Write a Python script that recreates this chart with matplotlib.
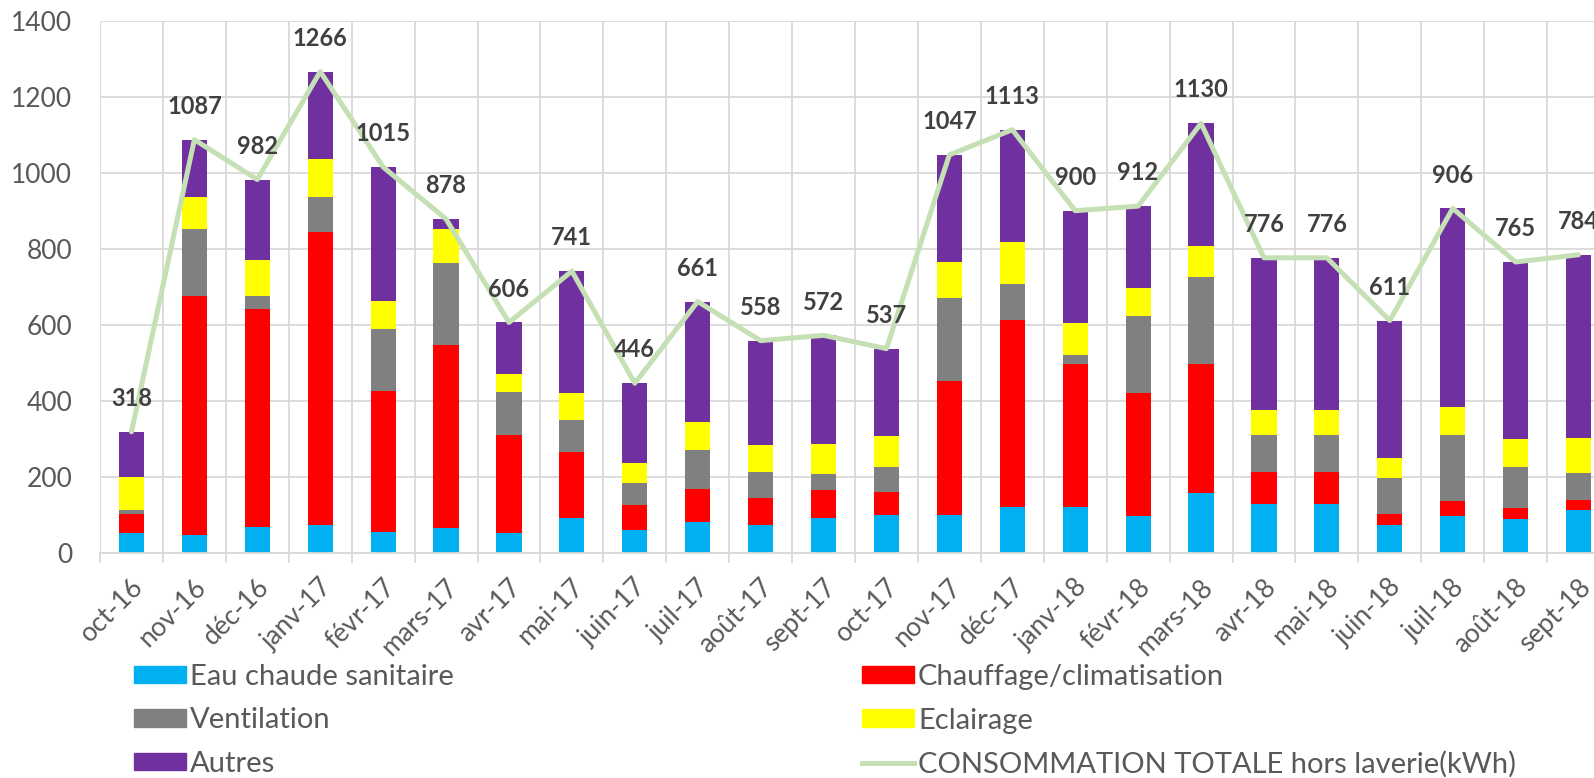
import numpy as np
import matplotlib
matplotlib.use('Agg')
from matplotlib import pyplot as plt
from matplotlib import transforms
from matplotlib.patches import Patch
from matplotlib.lines import Line2D

plt.rcParams['font.family'] = ['Lato', 'DejaVu Sans']

# données (kWh)
months = ['oct-16', 'nov-16', 'déc-16', 'janv-17', 'févr-17', 'mars-17', 'avr-17', 'mai-17',
          'juin-17', 'juil-17', 'août-17', 'sept-17', 'oct-17', 'nov-17', 'déc-17', 'janv-18',
          'févr-18', 'mars-18', 'avr-18', 'mai-18', 'juin-18', 'juil-18', 'août-18', 'sept-18']
ecs = [52, 47, 68, 73, 54, 65, 52, 91, 60, 80, 73, 91, 98, 99, 121, 121, 97, 158, 127, 127, 73, 96, 89, 112]
chauffage = [49, 629, 573, 770, 372, 481, 259, 173, 66, 87, 72, 75, 62, 352, 492, 375, 324, 338, 86, 86, 30, 39, 29, 26]
ventilation = [12, 176, 34, 94, 163, 217, 111, 85, 57, 104, 67, 40, 66, 220, 94, 23, 203, 229, 96, 96, 93, 174, 108, 71]
eclairage = [85, 84, 96, 100, 74, 89, 49, 70, 53, 72, 71, 81, 80, 95, 110, 86, 72, 83, 66, 66, 54, 75, 73, 94]
autres = [120, 151, 211, 229, 352, 26, 135, 322, 210, 318, 275, 285, 231, 281, 296, 295, 216, 322, 401, 401, 361, 522, 466, 481]
total = [318, 1087, 982, 1266, 1015, 878, 606, 741, 446, 661, 558, 572, 537, 1047, 1113, 900, 912, 1130, 776, 776, 611, 906, 765, 784]

labels = ['Eau chaude sanitaire', 'Chauffage/climatisation', 'Ventilation', 'Eclairage', 'Autres']
colors = ['#00B0F0', '#FF0000', '#808080', '#FFFF00', '#7030A0']
line_label = 'CONSOMMATION TOTALE hors laverie(kWh)'
line_color = '#C5E0B4'
grid_color = '#D9D9D9'
text_color = '#595959'

fig = plt.figure(figsize=(15.94, 7.78), dpi=100)
ax = fig.add_axes([100 / 1594, 225.3 / 778, 1510 / 1594, 532 / 778])

x = np.arange(len(months))
bottom = np.zeros(len(months))
for vals, color in zip([ecs, chauffage, ventilation, eclairage, autres], colors):
    ax.bar(x, vals, 0.4, bottom=bottom, color=color, zorder=2)
    bottom += np.array(vals)

ax.plot(x, total, color=line_color, lw=3.6, zorder=3, solid_joinstyle='round', solid_capstyle='round')
for xi, t in zip(x, total):
    ax.annotate(str(t), (xi, t), xytext=(0, 24), textcoords='offset points', ha='center', va='center',
                fontsize=17, fontweight='bold', color='#404040', zorder=4, annotation_clip=False)

ax.set_xlim(-0.5, 23.5)
ax.set_ylim(0, 1400)
ax.set_yticks(range(0, 1401, 200))
ax.set_xticks(x)
ax.set_xticklabels(months, rotation=45, ha='right', va='center', rotation_mode='anchor')
ax.set_xticks(np.arange(-0.5, 24, 1), minor=True)
ax.tick_params(axis='x', which='major', length=0, pad=22, labelsize=19, labelcolor=text_color)
ax.tick_params(axis='x', which='minor', length=7, width=1.3, color=grid_color)
ax.tick_params(axis='y', length=0, pad=20, labelsize=19, labelcolor=text_color)
# petit décalage à droite des étiquettes inclinées
shift = transforms.ScaledTranslation(8 / 100, 0, fig.dpi_scale_trans)
for lab in ax.get_xticklabels():
    lab.set_transform(lab.get_transform() + shift)
ax.grid(axis='y', which='major', color=grid_color, lw=1.3)
ax.grid(axis='x', which='minor', color=grid_color, lw=1.3)
ax.set_axisbelow(True)
for s in ['top', 'right', 'left']:
    ax.spines[s].set_visible(False)
ax.spines['bottom'].set_color(grid_color)
ax.spines['bottom'].set_linewidth(1.3)

# légende en deux colonnes
kw = dict(loc='upper left', frameon=False, fontsize=21, labelcolor=text_color, handlelength=1.78,
          handleheight=0.55, handletextpad=0.14, labelspacing=0.6, borderpad=0, borderaxespad=0)
h1 = [Patch(color=colors[0]), Patch(color=colors[2]), Patch(color=colors[4])]
fig.legend(h1, [labels[0], labels[2], labels[4]], bbox_to_anchor=(134 / 1594, 1 - 664 / 778), **kw)
h2 = [Patch(color=colors[1]), Patch(color=colors[3]), Line2D([], [], color=line_color, lw=3.6)]
fig.legend(h2, [labels[1], labels[3], line_label], bbox_to_anchor=(862 / 1594, 1 - 664 / 778), **kw)

plt.savefig('out.png', dpi=100)
